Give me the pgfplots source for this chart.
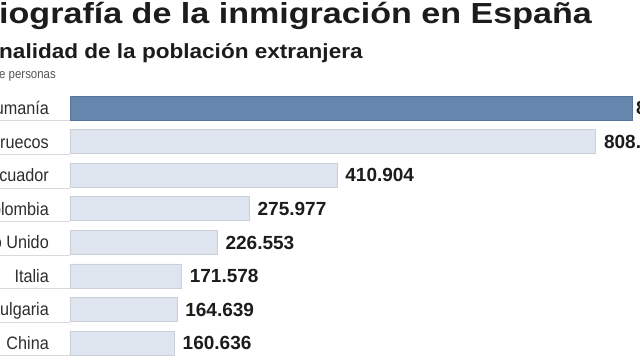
\documentclass[border=0pt]{standalone}
\usepackage{fontspec}
\usepackage{pgfplots}
\pgfplotsset{compat=1.18}
\usepackage{pgfplotstable}
\setmainfont{Liberation Sans}
\newfontfamily\titlefont{Liberation Sans}[FakeStretch=1.175]
\newfontfamily\subfont{Liberation Sans}[FakeStretch=1.1]
\newfontfamily\condfont{Liberation Sans}[FakeStretch=0.88]
\newfontfamily\labfont{Liberation Sans}[FakeStretch=0.9]
\newfontfamily\numfont{Liberation Sans}
\definecolor{barblue}{HTML}{6686AD}
\definecolor{barblueedge}{HTML}{56749A}
\definecolor{barlight}{HTML}{DFE5EE}
\definecolor{barlightedge}{HTML}{C9D0DA}
\definecolor{txt}{HTML}{1C1C1C}
\definecolor{labtxt}{HTML}{2E2E2E}
\definecolor{notetxt}{HTML}{555555}

\pgfplotstableread{
row val lab
0 865707 865.707
}\rumania
\pgfplotstableread{
row val lab
1 808914 808.914
2 410904 410.904
3 275977 275.977
4 226553 226.553
5 171578 171.578
6 164639 164.639
7 160636 160.636
}\otros

\begin{document}
\begin{tikzpicture}[x=1pt,y=1pt]
\fill[white] (0,0) rectangle (640,360);
% title block
\node[anchor=base west, inner sep=0pt, text=txt] at (-1,337)
  {\titlefont\bfseries\fontsize{29}{33}\selectfont\llap{Rad}iografía de la inmigración en España};
\node[anchor=base west, inner sep=0pt, text=txt] at (-1,302)
  {\subfont\bfseries\fontsize{20.5}{24}\selectfont\llap{Nacio}nalidad de la población extranjera};
\node[anchor=base west, inner sep=0pt, text=notetxt] at (-1,282)
  {\condfont\fontsize{13}{15}\selectfont\llap{Número d}e personas};
% thin row rules under the labels
\foreach \r in {0,...,7}{
  \draw[black!15, line width=0.8pt] (0,{360-(108+\r*33.575+12.8)}) -- (70,{360-(108+\r*33.575+12.8)});
}
\begin{axis}[
  at={(70pt,0.2pt)}, anchor=south west,
  scale only axis, width=572pt, height=268.6pt,
  xmin=0, xmax=880000, ymin=-0.5, ymax=7.5,
  y dir=reverse,
  xbar, bar width=24pt,
  axis line style={draw=none},
  xtick=\empty,
  ytick={0,...,7},
  yticklabels={Rumanía,Marruecos,Ecuador,Colombia,Reino Unido,Italia,Bulgaria,China},
  major tick length=0pt,
  yticklabel style={anchor=base east, inner sep=0pt, xshift=-21pt, yshift=-6.5pt,
    font=\labfont\fontsize{18}{20}\selectfont, text=labtxt},
  point meta=explicit symbolic,
  nodes near coords,
  every node near coord/.append style={anchor=base west, inner sep=0pt, xshift=8pt, yshift=-6.8pt,
    font=\numfont\bfseries\fontsize{19}{21}\selectfont, text=txt},
  clip=false,
]
\addplot[fill=barblue, draw=barblueedge, line width=0.6pt, bar shift=0pt,
  every node near coord/.append style={xshift=-5pt}]
  table[x=val, y=row, meta=lab] {\rumania};
\addplot[fill=barlight, draw=barlightedge, line width=0.6pt, bar shift=0pt]
  table[x=val, y=row, meta=lab] {\otros};
\end{axis}
\pgfresetboundingbox
\path[use as bounding box] (0,0) rectangle (640,360);
\end{tikzpicture}
\end{document}
